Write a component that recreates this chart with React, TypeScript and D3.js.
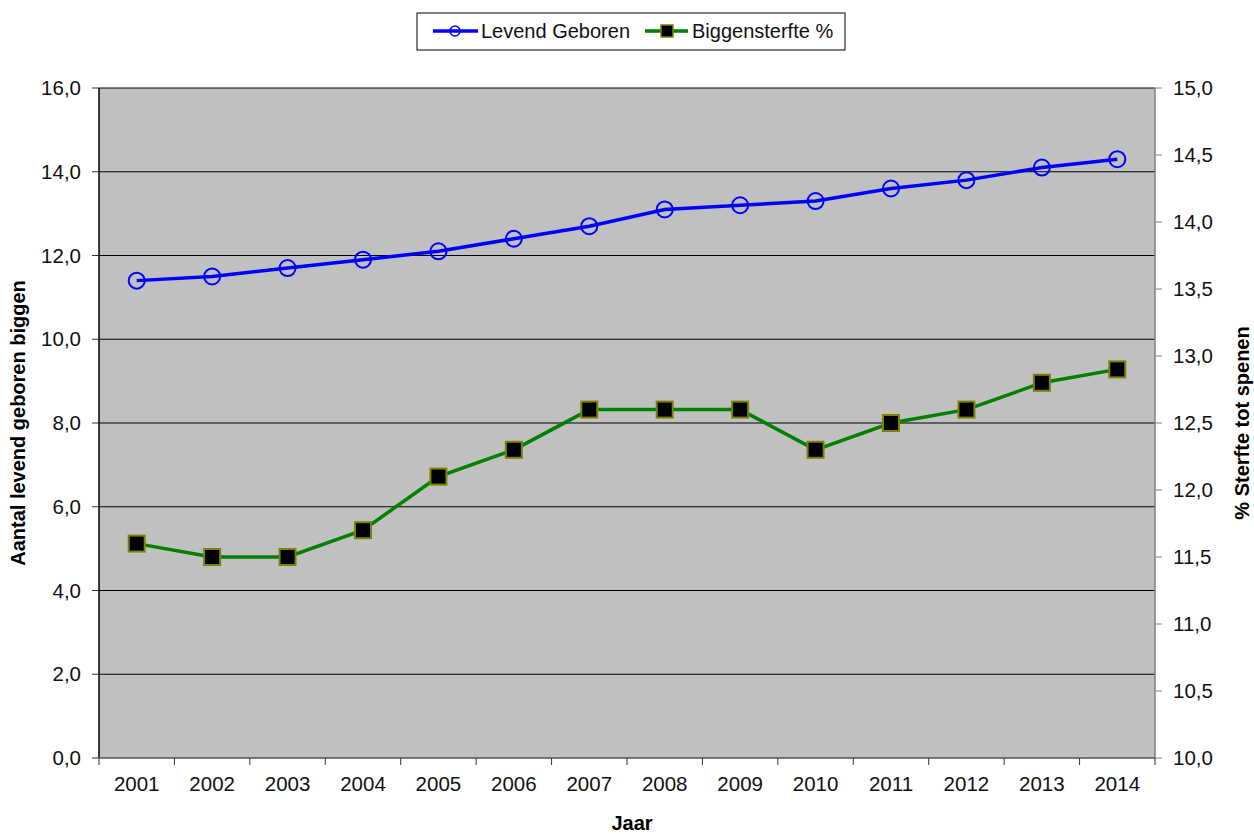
import React from "react";
import * as d3 from "d3";

const years = ["2001","2002","2003","2004","2005","2006","2007","2008","2009","2010","2011","2012","2013","2014"];
const levendGeboren = [11.4, 11.5, 11.7, 11.9, 12.1, 12.4, 12.7, 13.1, 13.2, 13.3, 13.6, 13.8, 14.1, 14.3];
const biggensterfte = [11.6, 11.5, 11.5, 11.7, 12.1, 12.3, 12.6, 12.6, 12.6, 12.3, 12.5, 12.6, 12.8, 12.9];
const leftTicks = [0, 2, 4, 6, 8, 10, 12, 14, 16];
const rightTicks = [10, 10.5, 11, 11.5, 12, 12.5, 13, 13.5, 14, 14.5, 15];

const W = 1254, H = 834;
const L = 99, R = 1155, T = 88, B = 758;
const font = "'Liberation Sans', Arial, sans-serif";

export default function App() {
  const x = d3.scaleBand<string>().domain(years).range([L, R]);
  const yL = d3.scaleLinear().domain([0, 16]).range([B, T]);
  const yR = d3.scaleLinear().domain([10, 15]).range([B, T]);
  const fmt = (v: number) => v.toFixed(1).replace(".", ",");
  const cx = (y: string) => (x(y) as number) + x.bandwidth() / 2;

  const blueLine = d3.line<number>().x((_, i) => cx(years[i])).y(d => yL(d))(levendGeboren) || "";
  const greenLine = d3.line<number>().x((_, i) => cx(years[i])).y(d => yR(d))(biggensterfte) || "";
  const sq = 16;

  return (
    <svg width={W} height={H} style={{ position: "absolute", left: 0, top: 0 }} fontFamily={font}>
      <rect x={0} y={0} width={W} height={H} fill="#fff" />
      <rect x={L} y={T} width={R - L} height={B - T} fill="#c0c0c0" />
      {leftTicks.filter(t => t > 0).map(t => (
        <line key={t} x1={L} x2={R} y1={yL(t)} y2={yL(t)} stroke="#000" strokeWidth={1} />
      ))}
      {/* axes */}
      <line x1={L} x2={L} y1={T} y2={B} stroke="#000" strokeWidth={1.5} />
      <line x1={R} x2={R} y1={T} y2={B} stroke="#808080" strokeWidth={1.5} />
      <line x1={L} x2={R} y1={B} y2={B} stroke="#555" strokeWidth={1.5} />
      {leftTicks.map(t => (
        <g key={t}>
          <line x1={L - 7} x2={L} y1={yL(t)} y2={yL(t)} stroke="#333" strokeWidth={1} />
          <text x={81} y={yL(t) + 7} textAnchor="end" fontSize={20.5} fill="#111">{fmt(t)}</text>
        </g>
      ))}
      {rightTicks.map(t => (
        <g key={t}>
          <line x1={R} x2={R + 7} y1={yR(t)} y2={yR(t)} stroke="#808080" strokeWidth={1} />
          <text x={1173} y={yR(t) + 7} textAnchor="start" fontSize={20.5} fill="#111">{fmt(t)}</text>
        </g>
      ))}
      {years.map((yr, i) => (
        <g key={yr}>
          <line x1={x(yr) as number} x2={x(yr) as number} y1={B} y2={B + 7} stroke="#333" strokeWidth={1} />
          {i === years.length - 1 && <line x1={R} x2={R} y1={B} y2={B + 7} stroke="#333" strokeWidth={1} />}
          <text x={cx(yr)} y={791} textAnchor="middle" fontSize={20.5} fill="#111">{yr}</text>
        </g>
      ))}
      {/* series */}
      <path d={blueLine} fill="none" stroke="#0000ff" strokeWidth={3.5} />
      {levendGeboren.map((v, i) => (
        <circle key={i} cx={cx(years[i])} cy={yL(v)} r={8} fill="none" stroke="#0000ff" strokeWidth={2} />
      ))}
      <path d={greenLine} fill="none" stroke="#008000" strokeWidth={3.5} />
      {biggensterfte.map((v, i) => (
        <rect key={i} x={cx(years[i]) - sq / 2} y={yR(v) - sq / 2} width={sq} height={sq} fill="#000" stroke="#808000" strokeWidth={2} />
      ))}
      {/* titles */}
      <text transform={`translate(25,${(T + B) / 2}) rotate(-90)`} textAnchor="middle" fontSize={20} fontWeight="bold" fill="#000">Aantal levend geboren biggen</text>
      <text transform={`translate(1249,${(T + B) / 2}) rotate(-90)`} textAnchor="middle" fontSize={20} fontWeight="bold" fill="#000">% Sterfte tot spenen</text>
      <text x={632} y={830} textAnchor="middle" fontSize={20} fontWeight="bold" fill="#000">Jaar</text>
      {/* legend */}
      <rect x={417} y={13} width={428} height={37} fill="#fff" stroke="#000" strokeWidth={1} />
      <line x1={433} x2={478} y1={31} y2={31} stroke="#0000ff" strokeWidth={3.5} />
      <circle cx={455} cy={31} r={5} fill="none" stroke="#0000ff" strokeWidth={1.5} />
      <text x={481} y={38} fontSize={20} fill="#111">Levend Geboren</text>
      <line x1={645} x2={688} y1={31} y2={31} stroke="#008000" strokeWidth={3.5} />
      <rect x={661} y={25} width={12} height={12} fill="#000" stroke="#808000" strokeWidth={1.5} />
      <text x={692} y={38} fontSize={20} fill="#111">Biggensterfte %</text>
    </svg>
  );
}
